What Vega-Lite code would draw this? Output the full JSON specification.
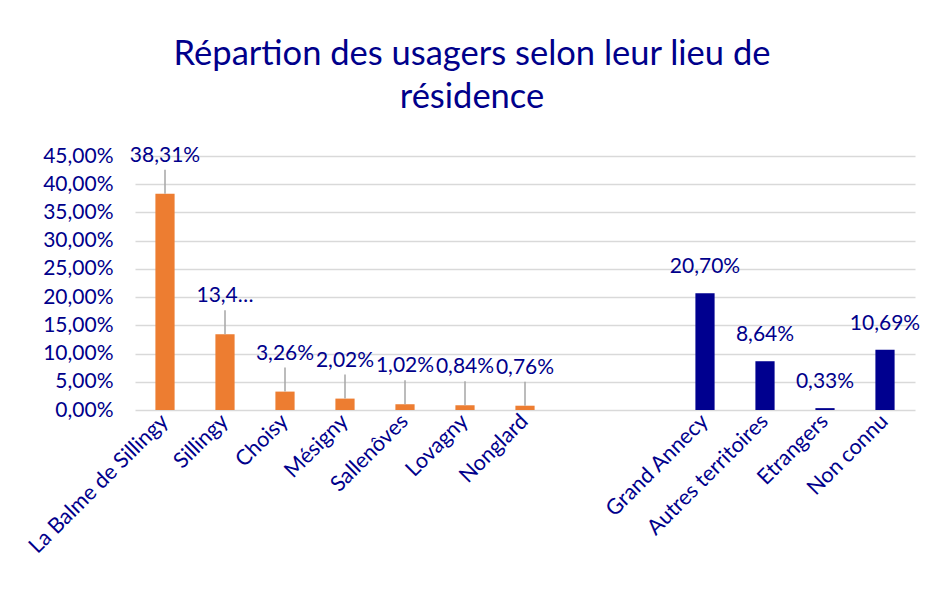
{
  "$schema": "https://vega.github.io/schema/vega-lite/v6.json",
  "autosize": "none",
  "width": 780,
  "height": 254,
  "padding": {"left": 135, "top": 156, "right": 18, "bottom": 182},
  "background": "white",
  "config": {"view": {"stroke": null}, "font": "Lato"},
  "title": {
    "text": ["Répartion des usagers selon leur lieu de", "résidence"],
    "fontSize": 34.5,
    "font": "Lato",
    "fontWeight": "normal",
    "color": "#00008B",
    "anchor": "middle",
    "dx": -53,
    "offset": 29,
    "lineHeight": 43
  },
  "data": {
    "values": [
      {"lieu": "La Balme de Sillingy", "value": 0.3831, "label": "38,31%", "groupe": "commune"},
      {"lieu": "Sillingy", "value": 0.134, "label": "13,4…", "groupe": "commune"},
      {"lieu": "Choisy", "value": 0.0326, "label": "3,26%", "groupe": "commune"},
      {"lieu": "Mésigny", "value": 0.0202, "label": "2,02%", "groupe": "commune"},
      {"lieu": "Sallenôves", "value": 0.0102, "label": "1,02%", "groupe": "commune"},
      {"lieu": "Lovagny", "value": 0.0084, "label": "0,84%", "groupe": "commune"},
      {"lieu": "Nonglard", "value": 0.0076, "label": "0,76%", "groupe": "commune"},
      {"lieu": "Grand Annecy", "value": 0.207, "label": "20,70%", "groupe": "autre"},
      {"lieu": "Autres territoires", "value": 0.0864, "label": "8,64%", "groupe": "autre"},
      {"lieu": "Etrangers", "value": 0.0033, "label": "0,33%", "groupe": "autre"},
      {"lieu": "Non connu", "value": 0.1069, "label": "10,69%", "groupe": "autre"}
    ]
  },
  "encoding": {
    "x": {
      "field": "lieu",
      "type": "nominal",
      "sort": null,
      "scale": {
        "domain": ["La Balme de Sillingy", "Sillingy", "Choisy", "Mésigny", "Sallenôves", "Lovagny", "Nonglard", " ", "  ", "Grand Annecy", "Autres territoires", "Etrangers", "Non connu"],
        "paddingInner": 0.68,
        "paddingOuter": 0.34
      },
      "axis": {
        "title": null,
        "labelAngle": -45,
        "labelAlign": "right",
        "labelBaseline": "middle",
        "labelFontSize": 21.5,
        "labelColor": "#00008B",
        "labelPadding": 8,
        "labelLimit": 400,
        "ticks": false,
        "domain": false,
        "labelOverlap": false
      }
    },
    "y": {
      "field": "value",
      "type": "quantitative",
      "scale": {"domain": [0, 0.45], "nice": false},
      "axis": {
        "title": null,
        "values": [0, 0.05, 0.1, 0.15, 0.2, 0.25, 0.3, 0.35, 0.4, 0.45],
        "labelExpr": "replace(format(datum.value, '.2%'), '.', ',')",
        "labelFontSize": 21,
        "labelColor": "#00008B",
        "labelPadding": 22,
        "ticks": false,
        "domain": false,
        "gridColor": "#D9D9D9",
        "gridWidth": 1.3
      }
    }
  },
  "layer": [
    {
      "mark": {"type": "bar"},
      "encoding": {
        "color": {
          "field": "groupe",
          "type": "nominal",
          "scale": {"domain": ["commune", "autre"], "range": ["#ED7D31", "#00008F"]},
          "legend": null
        }
      }
    },
    {
      "transform": [{"filter": "datum.groupe === 'commune'"}],
      "mark": {"type": "rule", "color": "#A6A6A6", "strokeWidth": 1.5, "y2Offset": -24},
      "encoding": {"y2": {"field": "value"}}
    },
    {
      "transform": [{"filter": "datum.groupe === 'commune'"}],
      "mark": {"type": "text", "fontSize": 21, "color": "#00008B", "baseline": "middle", "dy": -38},
      "encoding": {"text": {"field": "label"}}
    },
    {
      "transform": [{"filter": "datum.groupe === 'autre'"}],
      "mark": {"type": "text", "fontSize": 21, "color": "#00008B", "baseline": "middle", "dy": -26},
      "encoding": {"text": {"field": "label"}}
    }
  ]
}
